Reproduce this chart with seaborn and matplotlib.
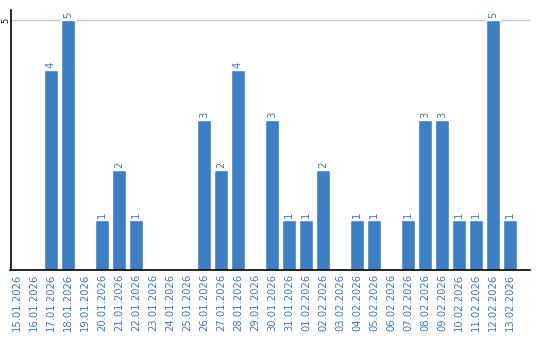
import matplotlib
matplotlib.use("Agg")
import matplotlib.pyplot as plt
import seaborn as sns
import pandas as pd

dates = ["15.01.2026", "16.01.2026", "17.01.2026", "18.01.2026", "19.01.2026",
         "20.01.2026", "21.01.2026", "22.01.2026", "23.01.2026", "24.01.2026",
         "25.01.2026", "26.01.2026", "27.01.2026", "28.01.2026", "29.01.2026",
         "30.01.2026", "31.01.2026", "01.02.2026", "02.02.2026", "03.02.2026",
         "04.02.2026", "05.02.2026", "06.02.2026", "07.02.2026", "08.02.2026",
         "09.02.2026", "10.02.2026", "11.02.2026", "12.02.2026", "13.02.2026"]
values = [0, 0, 4, 5, 0, 1, 2, 1, 0, 0, 0, 3, 2, 4, 0,
          3, 1, 1, 2, 0, 1, 1, 0, 1, 3, 3, 1, 1, 5, 1]

df = pd.DataFrame({"date": dates, "value": values})

sns.set_theme(style="white")
plt.rcParams['font.family'] = ['DejaVu Sans']

bar_color = "#3d7fc4"
text_color = "#3a7bc0"

fig = plt.figure(figsize=(5.4, 3.4), dpi=100)
ax = fig.add_axes([10.5 / 540, 70 / 340, (530 - 10.5) / 540, 260 / 340])

sns.barplot(data=df, x="date", y="value", color=bar_color, width=0.82,
            saturation=1, ax=ax, order=dates)

for i, v in enumerate(values):
    if v > 0:
        ax.text(i, v + 0.05, str(v), rotation=90, ha="center", va="bottom",
                fontsize=7.2, color=text_color)

ax.set_xlim(-0.38, 30.18)
ax.set_ylim(0, 5.2)
ax.set_yticks([5])
ax.set_yticklabels(["5"], rotation=90, va="center", ha="center",
                   fontsize=6, color="black")
ax.yaxis.grid(True, color="#c8c8c8", linewidth=1)
ax.set_axisbelow(True)
ax.set_xlabel("")
ax.set_ylabel("")
ax.tick_params(axis="x", length=0, pad=3, labelsize=7.2, labelcolor=text_color,
               labelrotation=90)
ax.tick_params(axis="y", length=0, pad=3.5)
for lbl in ax.get_xticklabels():
    lbl.set_va("top")

for s in ["top", "right"]:
    ax.spines[s].set_visible(False)
for s in ["left", "bottom"]:
    ax.spines[s].set_color("black")
    ax.spines[s].set_linewidth(1.2)

fig.savefig("out.png", dpi=100)
